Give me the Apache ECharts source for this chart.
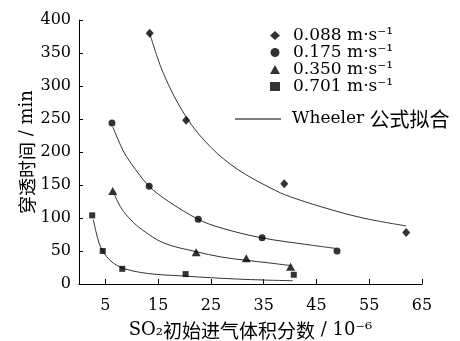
<!DOCTYPE html>
<html><head><meta charset="utf-8">
<script src="https://cdn.jsdelivr.net/npm/echarts@6/dist/echarts.min.js"></script>
<style>html,body{margin:0;padding:0;background:#fff}#c{width:460px;height:341px}</style>
</head><body><div id="c"></div>
<script>
// measured points
const diamondX = [13.4, 20.3, 38.9, 62.0];
const diamondY = [380, 248, 152, 78];
const circleX = [6.25, 13.3, 22.6, 34.7, 48.9];
const circleY = [244, 148, 98, 70, 50];
const triX = [6.4, 22.2, 31.7, 40.1];
const triY = [141, 48, 39, 26];
const sqX = [2.5, 4.5, 8.2, 20.2, 40.7];
const sqY = [104, 50, 23, 15, 14];
// Wheeler fit curves
const fitDX = [13.4, 16, 20.3, 25, 30, 36.4, 40.1, 48.9, 55, 62];
const fitDY = [380, 319, 253, 207, 174, 145, 132, 110, 98, 88];
const fitCX = [6.4, 8.3, 9.85, 13.3, 17, 22.6, 26.9, 34.6, 43.9, 48.6];
const fitCY = [238, 203, 183, 148, 125, 98, 85, 70, 59, 54];
const fitTX = [6.7, 8, 9.85, 12, 16.1, 22.2, 26.9, 31.6, 36, 40];
const fitTY = [136, 115, 97, 82, 62, 49, 41, 36, 32, 28];
const fitSX = [2.7, 3.2, 3.8, 4.5, 6, 8.3, 13, 20, 25, 30, 35, 40.5];
const fitSY = [98, 80, 62, 50, 35, 24, 16, 12, 9.5, 7.5, 6, 5];
const xTicks = [5, 15, 25, 35, 45, 55, 65];
const seriesNames = ['0.088 m·s⁻¹', '0.175 m·s⁻¹', '0.350 m·s⁻¹', '0.701 m·s⁻¹'];
const fitName = 'Wheeler 公式拟合';

const zip = (a, b) => a.map((v, i) => [v, b[i]]);
const FONT = "'DejaVu Serif','Noto Sans CJK SC',serif";
const CJK = "'Noto Sans CJK SC',sans-serif";
const FS = 16;
// wrap CJK runs in rich-text tag
const cjkRich = s => s.replace(/([\u4e00-\u9fff]+)/g, '{c|$1}');
const chart = echarts.init(document.getElementById('c'));
const scat = (name, sym, size, x, y) => ({
  name, type: 'scatter', symbol: sym, symbolSize: size, data: zip(x, y),
  itemStyle: { color: '#000' }, z: 3
});
const fit = (x, y) => ({
  name: fitName, type: 'line', symbol: 'none', showSymbol: false, smooth: 0.35,
  data: zip(x, y), lineStyle: { color: '#333', width: 1 }, itemStyle: { color: '#333' }, z: 2
});
chart.setOption({
  animation: false,
  textStyle: { fontFamily: FONT, color: '#000' },
  grid: { left: 79, right: 38, top: 20, bottom: 57, containLabel: false, outerBoundsMode: 'none' },
  legend: [{
    data: seriesNames, orient: 'vertical', left: 265, top: 22,
    itemWidth: 10, itemHeight: 9, itemGap: 0, itemStyle: { color: '#000' },
    textStyle: { fontFamily: FONT, fontSize: 17, color: '#000', lineHeight: 17, padding: [0, 0, 0, 8] }
  }, {
    data: [{ name: fitName, icon: 'rect' }], left: 230, top: 104, itemWidth: 46, itemHeight: 1, itemGap: 0,
    itemStyle: { color: '#000' },
    formatter: n => cjkRich(n),
    textStyle: { fontFamily: FONT, fontSize: 17, color: '#000', padding: [0, 0, 0, 6],
      rich: { c: { fontFamily: CJK, fontSize: 20, color: '#000' } } }
  }],
  xAxis: {
    type: 'value', min: 0, max: 65,
    name: cjkRich('SO₂初始进气体积分数 / 10⁻⁶'), nameLocation: 'middle', nameGap: 37, nameMoveOverlap: false,
    nameTextStyle: { fontFamily: FONT, fontSize: 18, color: '#000',
      rich: { c: { fontFamily: CJK, fontSize: 19, color: '#000' } } },
    axisLine: { lineStyle: { color: '#000', width: 1 } },
    axisTick: { inside: true, length: 5, customValues: xTicks, lineStyle: { color: '#000' } },
    axisLabel: { customValues: xTicks, fontFamily: FONT, fontSize: FS, color: '#000', margin: 14 },
    splitLine: { show: false }
  },
  yAxis: {
    type: 'value', min: 0, max: 400, interval: 50,
    name: cjkRich('穿透时间 / min'), nameLocation: 'middle', nameGap: 43, nameMoveOverlap: false,
    nameTextStyle: { fontFamily: FONT, fontSize: 18, color: '#000',
      rich: { c: { fontFamily: CJK, fontSize: 18, color: '#000' } } },
    axisLine: { show: true, lineStyle: { color: '#000', width: 1 } },
    axisTick: { show: true, inside: true, length: 4, lineStyle: { color: '#000' } },
    axisLabel: { fontFamily: FONT, fontSize: FS, color: '#000', margin: 8 },
    splitLine: { show: false }
  },
  series: [
    fit(fitDX, fitDY), fit(fitCX, fitCY), fit(fitTX, fitTY), fit(fitSX, fitSY),
    scat(seriesNames[0], 'diamond', [8, 9], diamondX, diamondY),
    scat(seriesNames[1], 'circle', 7, circleX, circleY),
    scat(seriesNames[2], 'triangle', [9, 8], triX, triY),
    scat(seriesNames[3], 'rect', 6, sqX, sqY)
  ]
});
</script></body></html>
